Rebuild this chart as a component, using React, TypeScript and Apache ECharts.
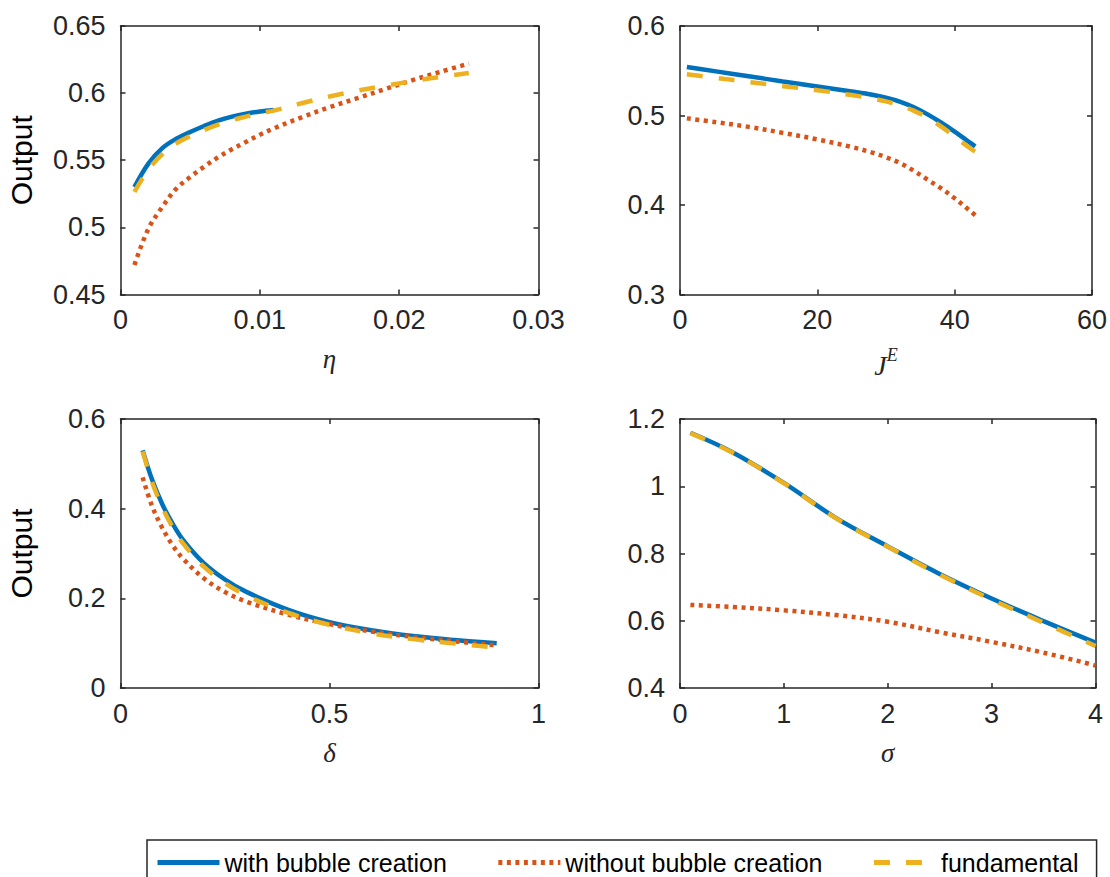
import React, { useEffect, useRef } from "react";
import * as echarts from "echarts";

// Line colours (MATLAB default order)
const BLUE = "#0072BD";
const RED = "#D95319";
const YELLOW = "#EDB120";
const INK = "#262626";

const SERIES_NAMES = ["with bubble creation", "without bubble creation", "fundamental"];

// Panel 1: output against eta
const etaX = [0.001, 0.002, 0.003, 0.004, 0.005, 0.006, 0.007, 0.008, 0.009, 0.010, 0.011, 0.013, 0.015, 0.017, 0.019, 0.021, 0.023, 0.025];
const etaWith = [0.530, 0.5475, 0.559, 0.566, 0.571, 0.5755, 0.5795, 0.5825, 0.5847, 0.5863, 0.5874];
const etaWithout = [0.472, 0.499, 0.5152, 0.5288, 0.5375, 0.5452, 0.5522, 0.5582, 0.5636, 0.569, 0.5737, 0.582, 0.5895, 0.5962, 0.603, 0.6098, 0.616, 0.622];
const etaFundamental = [0.5265, 0.543, 0.5545, 0.5625, 0.568, 0.5725, 0.5765, 0.5798, 0.5825, 0.585, 0.587, 0.5925, 0.5975, 0.6018, 0.6055, 0.609, 0.6122, 0.615];

// Panel 2: output against J^E
const jeX = [1, 5, 10, 15, 20, 25, 28, 30, 32, 34, 36, 38, 40, 42, 43];
const jeWith = [0.5542, 0.5496, 0.5438, 0.5381, 0.5325, 0.5268, 0.5232, 0.52, 0.5156, 0.5095, 0.5015, 0.4922, 0.482, 0.471, 0.4655];
const jeWithout = [0.4968, 0.4928, 0.4873, 0.4806, 0.4733, 0.4648, 0.4586, 0.4533, 0.447, 0.4385, 0.4285, 0.4188, 0.4075, 0.395, 0.3885];
const jeFundamental = [0.546, 0.5422, 0.5375, 0.5328, 0.5283, 0.5228, 0.519, 0.5158, 0.5114, 0.5055, 0.4978, 0.4878, 0.4765, 0.4648, 0.4595];

// Panel 3: output against delta
const deltaX = [0.053, 0.075, 0.1, 0.125, 0.15, 0.2, 0.25, 0.3, 0.4, 0.5, 0.6, 0.7, 0.8, 0.9];
const deltaWith = [0.53, 0.466, 0.41, 0.366, 0.33, 0.278, 0.242, 0.215, 0.175, 0.147, 0.129, 0.116, 0.107, 0.1];
const deltaWithout = [0.47, 0.407, 0.357, 0.318, 0.288, 0.244, 0.214, 0.193, 0.164, 0.1425, 0.126, 0.114, 0.104, 0.095];
const deltaFundamental = [0.528, 0.461, 0.403, 0.358, 0.322, 0.27, 0.234, 0.207, 0.168, 0.141, 0.122, 0.109, 0.099, 0.09];

// Panel 4: output against sigma
const sigmaX = [0.1, 0.5, 1, 1.5, 2, 2.5, 3, 3.5, 4];
const sigmaWith = [1.159, 1.102, 1.01, 0.906, 0.821, 0.739, 0.666, 0.599, 0.535];
const sigmaWithout = [0.647, 0.641, 0.631, 0.617, 0.597, 0.566, 0.537, 0.505, 0.467];
const sigmaFundamental = [1.158, 1.101, 1.009, 0.905, 0.82, 0.737, 0.663, 0.594, 0.525];

// Axis ranges [min, max, interval]
const xRanges = [
  [0, 0.03, 0.01],
  [0, 60, 20],
  [0, 1, 0.5],
  [0, 4, 1],
];
const yRanges = [
  [0.45, 0.65, 0.05],
  [0.3, 0.6, 0.1],
  [0, 0.6, 0.2],
  [0.4, 1.2, 0.2],
];

const panelData = [
  { x: etaX, ys: [etaWith, etaWithout, etaFundamental] },
  { x: jeX, ys: [jeWith, jeWithout, jeFundamental] },
  { x: deltaX, ys: [deltaWith, deltaWithout, deltaFundamental] },
  { x: sigmaX, ys: [sigmaWith, sigmaWithout, sigmaFundamental] },
];

const xNames = ["η", "{j|J}{e|E}", "δ", "σ"];
const yNames = ["Output", "", "Output", ""];

const grids = [
  { left: 120.5, top: 26, width: 418, height: 268.5 },
  { left: 680, top: 26, width: 415.5, height: 268.5 },
  { left: 120.5, top: 419, width: 418, height: 269 },
  { left: 680, top: 419, width: 415.5, height: 269 },
];

const SANS = "'Liberation Sans', Arial, Helvetica, sans-serif";
const SERIF = "'Liberation Serif', 'Times New Roman', serif";

const fmt = (v: number) => String(parseFloat(v.toFixed(4)));

const lineStyles = [
  { color: BLUE, width: 4.5, type: "solid" as any },
  { color: RED, width: 4.5, type: [4, 4.5] as any },
  { color: YELLOW, width: 4.5, type: [16, 16] as any },
];

function buildOption() {
  const axisLine = { show: true, onZero: false, lineStyle: { color: INK, width: 1.5 } };
  const axisTick = { show: true, inside: true, length: 5, lineStyle: { color: INK, width: 1.5 } };
  const labelStyle = { color: INK, fontSize: 27, fontFamily: SANS, formatter: fmt };
  const nameStyle = { color: INK, fontFamily: SERIF, fontStyle: "italic", fontSize: 27 };

  const xAxis: any[] = [];
  const yAxis: any[] = [];
  grids.forEach((_, i) => {
    const [xmin, xmax, xint] = xRanges[i];
    const [ymin, ymax, yint] = yRanges[i];
    xAxis.push({
      type: "value",
      gridIndex: i,
      position: "bottom",
      min: xmin,
      max: xmax,
      interval: xint,
      axisLine,
      axisTick,
      splitLine: { show: false },
      axisLabel: { ...labelStyle, margin: 12 },
      name: xNames[i],
      nameLocation: "middle",
      nameGap: 51,
      nameTextStyle: {
        ...nameStyle,
        rich: {
          j: { fontFamily: SERIF, fontStyle: "italic", fontSize: 28, color: INK, lineHeight: 34, verticalAlign: "bottom" },
          e: { fontFamily: SERIF, fontStyle: "italic", fontSize: 18, color: INK, verticalAlign: "top" },
        },
      },
    });
    xAxis.push({
      type: "value",
      gridIndex: i,
      position: "top",
      min: xmin,
      max: xmax,
      interval: xint,
      axisLine,
      axisTick,
      splitLine: { show: false },
      axisLabel: { show: false },
    });
    yAxis.push({
      type: "value",
      gridIndex: i,
      position: "left",
      min: ymin,
      max: ymax,
      interval: yint,
      axisLine,
      axisTick,
      splitLine: { show: false },
      axisLabel: { ...labelStyle, margin: 15 },
      name: yNames[i],
      nameLocation: "middle",
      nameGap: 84,
      nameTextStyle: { color: "#000", fontFamily: SANS, fontSize: 30 },
    });
    yAxis.push({
      type: "value",
      gridIndex: i,
      position: "right",
      min: ymin,
      max: ymax,
      interval: yint,
      axisLine,
      axisTick,
      splitLine: { show: false },
      axisLabel: { show: false },
    });
  });

  const series: any[] = [];
  panelData.forEach((panel, i) => {
    panel.ys.forEach((ys, k) => {
      series.push({
        type: "line",
        name: SERIES_NAMES[k],
        xAxisIndex: i * 2,
        yAxisIndex: i * 2,
        data: ys.map((y, j) => [panel.x[j], y]),
        showSymbol: false,
        symbol: "none",
        smooth: 0.35,
        lineStyle: lineStyles[k],
        itemStyle: { color: lineStyles[k].color },
        z: 2 + k,
        silent: true,
      });
    });
  });

  return {
    animation: false,
    backgroundColor: "#ffffff",
    grid: grids.map((g) => ({ ...g, containLabel: false })),
    xAxis,
    yAxis,
    legend: {
      data: SERIES_NAMES,
      left: 147,
      top: 840,
      orient: "horizontal",
      padding: [10, 18, 10, 8],
      borderColor: INK,
      borderWidth: 1.5,
      itemWidth: 62,
      itemHeight: 14,
      itemGap: 49,
      itemStyle: { color: "transparent", borderColor: "transparent", borderWidth: 0 },
      lineStyle: { width: 5 },
      textStyle: { color: "#000", fontSize: 25, fontFamily: SANS },
    },
    series,
  };
}

export default function App() {
  const ref = useRef<HTMLDivElement>(null);
  useEffect(() => {
    if (!ref.current) return;
    const chart = echarts.init(ref.current, undefined, { renderer: "svg" });
    chart.setOption(buildOption() as any);
    return () => chart.dispose();
  }, []);
  return (
    <div
      ref={ref}
      style={{ position: "absolute", left: 0, top: 0, width: 1110, height: 877, background: "#fff" }}
    />
  );
}
